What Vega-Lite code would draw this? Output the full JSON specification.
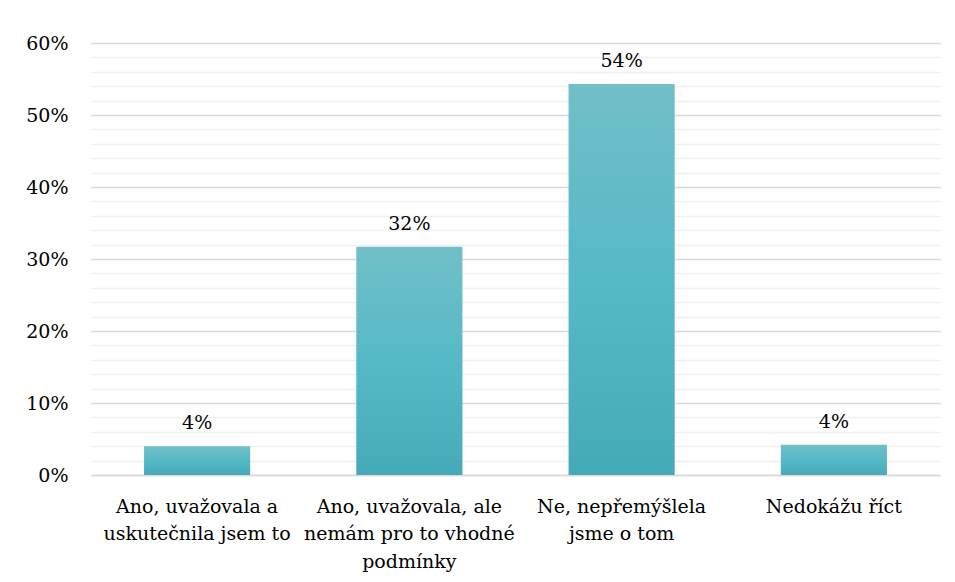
{
  "$schema": "https://vega.github.io/schema/vega-lite/v6.json",
  "autosize": {"type": "none"},
  "width": 849,
  "height": 432,
  "padding": {"left": 91, "top": 43, "right": 15, "bottom": 107},
  "background": "white",
  "config": {
    "view": {"stroke": null},
    "font": "DejaVu Serif",
    "axis": {"labelFont": "DejaVu Serif", "labelFontSize": 19, "labelColor": "#000000"}
  },
  "data": {
    "values": [
      {"kategorie": "Ano, uvažovala a uskutečnila jsem to", "podil": 0.040, "popisek": "4%"},
      {"kategorie": "Ano, uvažovala, ale nemám pro to vhodné podmínky", "podil": 0.317, "popisek": "32%"},
      {"kategorie": "Ne, nepřemýšlela jsme o tom", "podil": 0.543, "popisek": "54%"},
      {"kategorie": "Nedokážu říct", "podil": 0.042, "popisek": "4%"}
    ]
  },
  "encoding": {
    "x": {
      "field": "kategorie",
      "type": "nominal",
      "sort": null,
      "scale": {"paddingInner": 0.5, "paddingOuter": 0.25},
      "axis": {
        "title": null,
        "labelAngle": 0,
        "ticks": false,
        "domainColor": "#d9d9d9",
        "domainWidth": 1.5,
        "labelPadding": 22,
        "labelLineHeight": 27.5,
        "labelBaseline": "top",
        "labelLimit": 300,
        "labelExpr": "datum.label == 'Ano, uvažovala a uskutečnila jsem to' ? ['Ano, uvažovala a', 'uskutečnila jsem to'] : datum.label == 'Ano, uvažovala, ale nemám pro to vhodné podmínky' ? ['Ano, uvažovala, ale', 'nemám pro to vhodné', 'podmínky'] : datum.label == 'Ne, nepřemýšlela jsme o tom' ? ['Ne, nepřemýšlela', 'jsme o tom'] : datum.label"
      }
    },
    "y": {
      "field": "podil",
      "type": "quantitative",
      "scale": {"domain": [0, 0.6], "nice": false}
    }
  },
  "layer": [
    {
      "mark": {
        "type": "bar",
        "color": {
          "gradient": "linear",
          "x1": 0, "y1": 0, "x2": 0, "y2": 1,
          "stops": [
            {"offset": 0, "color": "#71bfc7"},
            {"offset": 0.5, "color": "#56b9c7"},
            {"offset": 1, "color": "#45aab7"}
          ]
        }
      },
      "encoding": {
        "y": {
          "field": "podil",
          "type": "quantitative",
          "axis": {
            "title": null,
            "format": ".0%",
            "values": [0, 0.1, 0.2, 0.3, 0.4, 0.5, 0.6],
            "ticks": false,
            "domain": false,
            "labelPadding": 23,
            "grid": true,
            "gridColor": "#d9d9d9",
            "gridWidth": 1.5
          }
        }
      }
    },
    {
      "mark": {"type": "text", "baseline": "alphabetic", "dy": -17, "fontSize": 19, "font": "DejaVu Serif", "color": "#000000"},
      "encoding": {
        "text": {"field": "popisek"},
        "y": {
          "field": "podil",
          "type": "quantitative",
          "axis": {
            "orient": "right",
            "title": null,
            "labels": false,
            "ticks": false,
            "domain": false,
            "grid": true,
            "gridColor": "#f0f0f0",
            "gridWidth": 1.5,
            "values": [0.02, 0.04, 0.06, 0.08, 0.12, 0.14, 0.16, 0.18, 0.22, 0.24, 0.26, 0.28, 0.32, 0.34, 0.36, 0.38, 0.42, 0.44, 0.46, 0.48, 0.52, 0.54, 0.56, 0.58]
          }
        }
      }
    }
  ],
  "resolve": {"axis": {"y": "independent"}}
}
